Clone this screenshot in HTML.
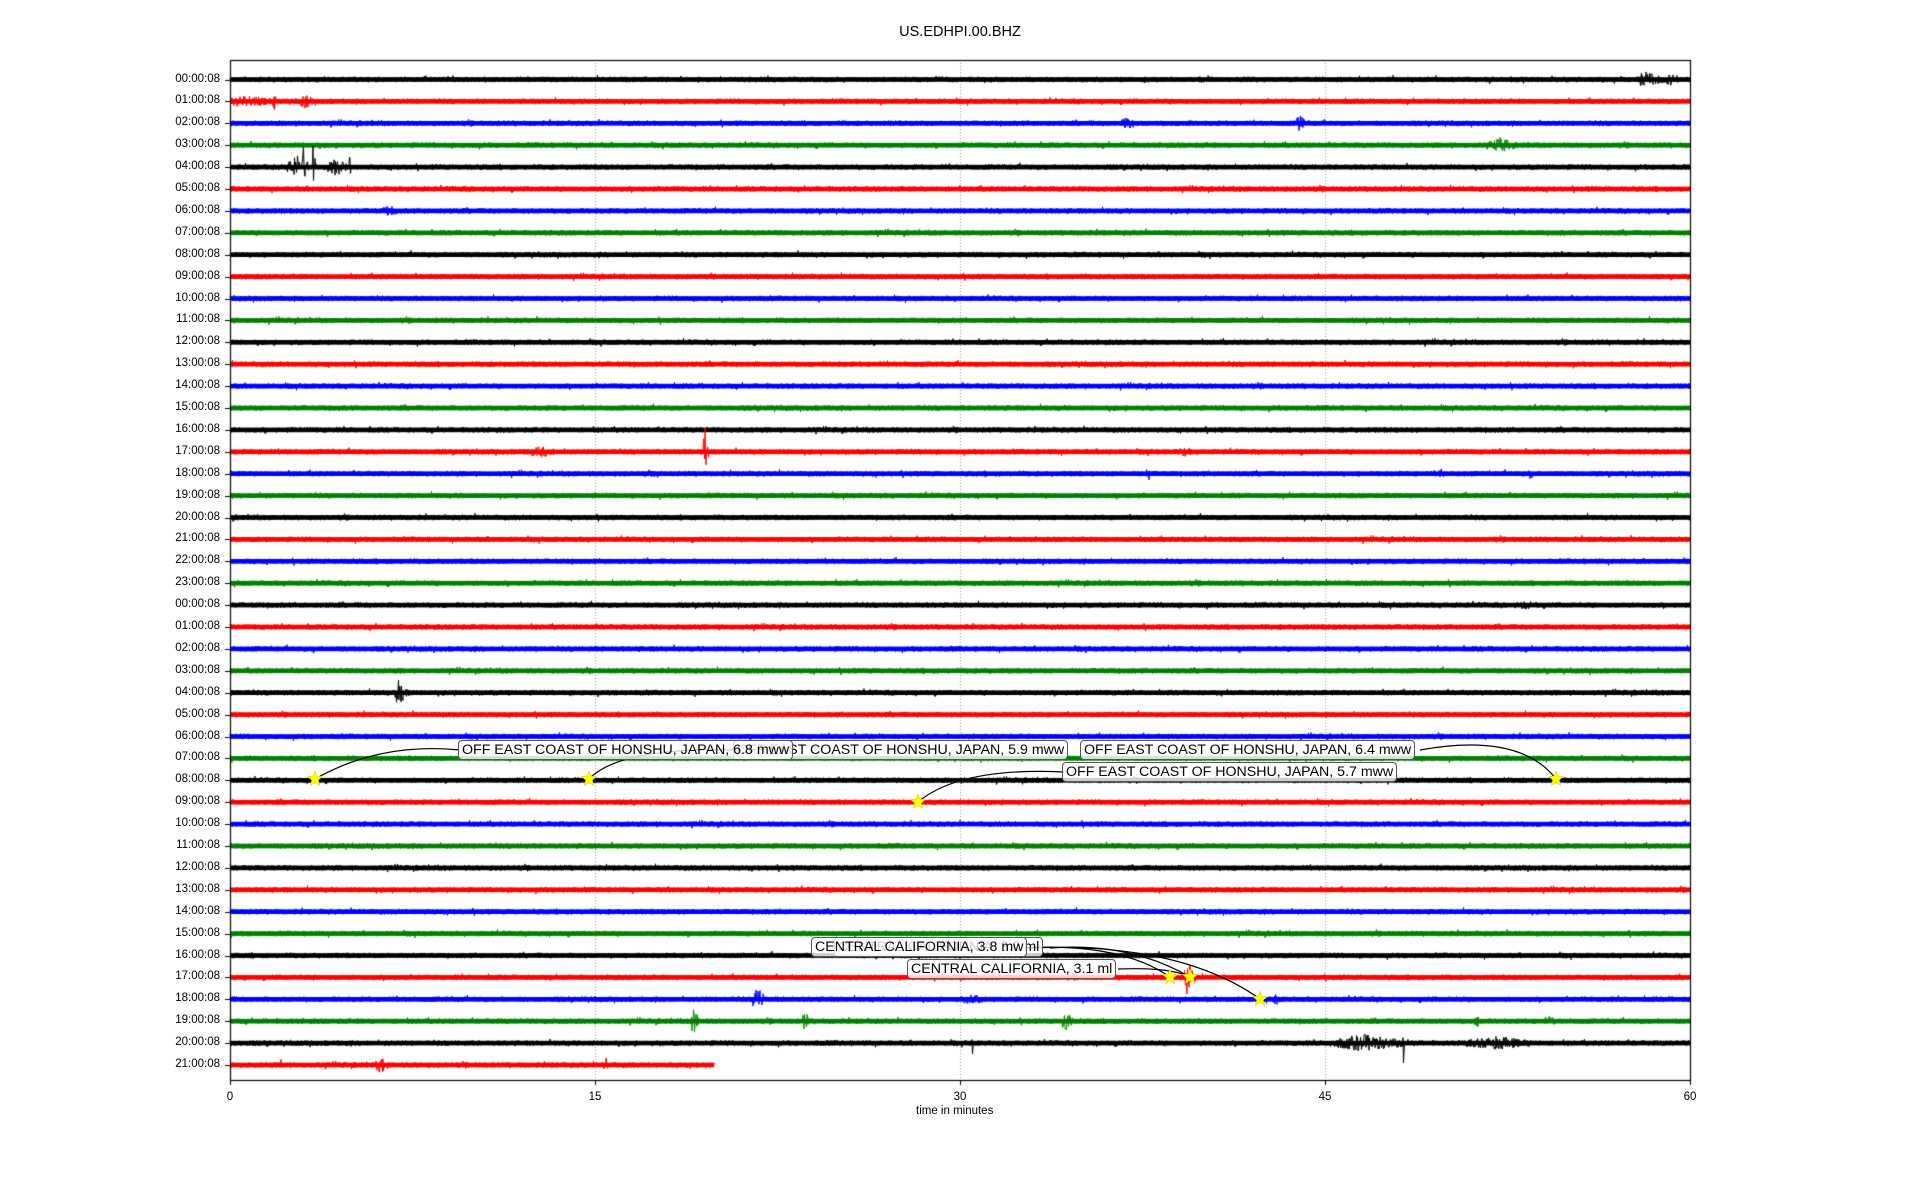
<!DOCTYPE html>
<html><head><meta charset="utf-8"><style>
html,body{margin:0;padding:0;background:#fff;width:1920px;height:1200px;overflow:hidden;font-family:"Liberation Sans","DejaVu Sans",sans-serif;}
#wrap{position:relative;width:1920px;height:1200px;}
canvas{position:absolute;left:0;top:0;}
.lbl{position:absolute;font-size:11.5px;color:#000;white-space:nowrap;}
.ann{position:absolute;font-size:14.2px;background:rgba(255,255,255,0.8);border:1px solid #555;border-radius:4px;padding:0 3px;white-space:nowrap;line-height:18px;}
</style></head><body><div id="wrap">
<canvas id="c" width="1920" height="1200"></canvas>
<div class="lbl" style="left:0;width:1920px;text-align:center;top:24px;font-size:14.5px">US.EDHPI.00.BHZ</div>
<div id="labels"></div>
<div class="lbl" style="left:916px;top:1105px;font-size:11.5px">time in minutes</div>
<svg width="1920" height="1200" style="position:absolute;left:0;top:0" id="s"></svg>
<div class="ann" style="left:733px;top:740px">OFF EAST COAST OF HONSHU, JAPAN, 5.9 mww</div>
<div class="ann" style="left:458px;top:740px">OFF EAST COAST OF HONSHU, JAPAN, 6.8 mww</div>
<div class="ann" style="left:1062px;top:762px">OFF EAST COAST OF HONSHU, JAPAN, 5.7 mww</div>
<div class="ann" style="left:1080px;top:740px">OFF EAST COAST OF HONSHU, JAPAN, 6.4 mww</div>
<div class="ann" style="left:834px;top:937px">CENTRAL CALIFORNIA, 3.0 ml</div>
<div class="ann" style="left:811px;top:937px">CENTRAL CALIFORNIA, 3.8 mw</div>
<div class="ann" style="left:907px;top:959px">CENTRAL CALIFORNIA, 3.1 ml</div>
</div>
<script>
var L=230,R=1690,T=60,B=1080,Y0=79.5,S=21.9;
var c=document.getElementById('c').getContext('2d');
var seed=12345;function rnd(){seed=(seed*1103515245+12345)&0x7fffffff;return seed/0x7fffffff;}
function gx(m){return L+(R-L)*m/60;}
c.strokeStyle='#999';c.lineWidth=1;c.setLineDash([1,2]);
[15,30,45].forEach(function(m){c.beginPath();c.moveTo(Math.round(gx(m))+.5,T);c.lineTo(Math.round(gx(m))+.5,B);c.stroke();});
c.setLineDash([]);
var cols=['#000','#f00','#00f','#008000'];
var ev={0:[[58,9,1],[37.6,5,.3],[59,6,1]],1:[[0,6,3],[1.8,11,.1],[3,8,.5]],2:[[36.8,8,.5],[39.2,5,.5],[43.9,11,.3]],3:[[52,8,1]],4:[[2.6,12,.8],[3,22,.15],[3.4,28,.1],[4.2,9,.8],[4.9,12,.1]],6:[[6.4,6,.8]],
17:[[19.5,28,.15],[12.5,6,1.5],[39,5,1]],18:[[17.5,7,.3],[37.7,7,.3],[49.7,6,.3],[53.4,6,.3]],19:[[9.5,5,.2]],24:[[53,5,1.5]],26:[[3.4,7,.1],[7.3,5,.2]],28:[[6.9,16,.4]],
42:[[21.6,14,.4],[30.3,6,1],[42.9,6,.4]],41:[[39.3,20,.3]],43:[[19,14,.3],[23.6,12,.2],[34.3,14,.3],[51.2,6,.5],[54,5,1]],44:[[46,9,3],[48.2,38,.05],[30.5,12,.05],[51.5,7,3]],45:[[2.1,12,.1],[6.1,9,.5],[15.4,9,.2]]};
var html='';
for(var i=0;i<46;i++){
 var y=Y0+S*i,end=(i==45)?19.9:60;
 var h=(i<24?i:i-24);var t=(h<10?'0':'')+h+':00:08';
 html+='<div class="lbl" style="left:160px;width:60px;text-align:right;top:'+(y-7)+'px">'+t+'</div>';
 c.fillStyle='#000';c.fillRect(225,Math.round(y),5,1);
 c.fillStyle=cols[i%4];c.fillRect(L,y-2.3,gx(end)-L,4.6);
 c.strokeStyle=cols[i%4];c.lineWidth=1;c.beginPath();
 var n=Math.round((gx(end)-L)*2),evs=ev[i]||[];
 for(var k=0;k<=n;k++){var x=L+k/2,m=(x-L)/(R-L)*60,a=2.8+(rnd()<0.03?1.5:0);
  for(var e=0;e<evs.length;e++){var d=(m-evs[e][0])/evs[e][2];if(d>=-0.3&&d<=1.5)a=Math.max(a,evs[e][1]*Math.exp(-Math.abs(d-0.2)*1.5));}
  var yy=y+(rnd()*2-1)*a;if(k==0)c.moveTo(x,yy);else c.lineTo(x,yy);}
 c.stroke();
}
document.getElementById('labels').innerHTML=html;
c.strokeStyle='#000';c.lineWidth=1.2;c.strokeRect(L+.5,T+.5,R-L,B-T);
[0,15,30,45,60].forEach(function(m){c.fillStyle='#000';c.fillRect(Math.round(gx(m)),B,1,5);
 var d=document.createElement('div');d.className='lbl';d.style.left=(gx(m)-20)+'px';d.style.width='40px';d.style.textAlign='center';d.style.top=(B+11)+'px';d.textContent=m;document.getElementById('wrap').appendChild(d);});
var s=document.getElementById('s'),svg='';
function star(x,y){var p='';for(var j=0;j<10;j++){var r=j%2?3.5:8,a=-Math.PI/2+j*Math.PI/5;p+=(x+r*Math.cos(a)).toFixed(1)+','+(y+r*Math.sin(a)).toFixed(1)+' ';}svg+='<polygon points="'+p+'" fill="#ff0" stroke="#cc0" stroke-width="0.5"/>';}
function cur(x1,y1,cx,cy,x2,y2){svg+='<path d="M'+x1+' '+y1+' Q'+cx+' '+cy+' '+x2+' '+y2+'" fill="none" stroke="#000" stroke-width="1.2"/>';}
cur(315,779,380,742,460,750);cur(589,779,620,747,735,750);cur(918,802,960,767,1064,772);cur(1556,779,1520,732,1420,750);
cur(1170,977,1120,942,1020,948);cur(1190,977,1130,942,1050,948);cur(1260,999,1180,942,1030,948);cur(1190,977,1170,967,1118,969);
star(315,779);star(589,779);star(918,802);star(1556,779);star(1170,977);star(1190,977);star(1260,999);
s.innerHTML=svg;
</script>
</body></html>
